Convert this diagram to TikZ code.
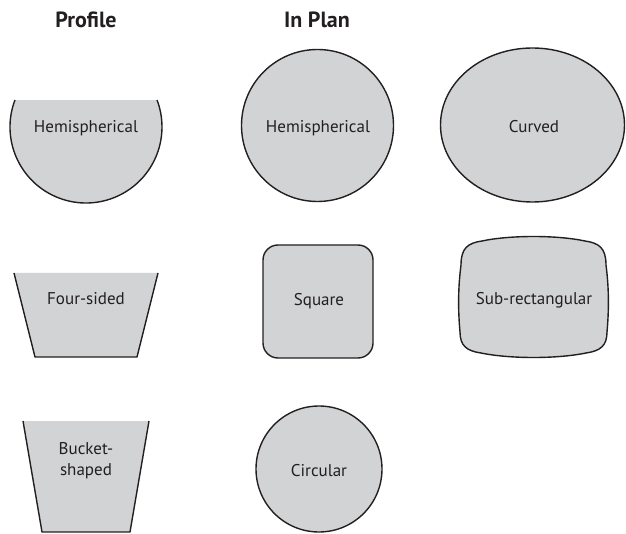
\documentclass[tikz,border=0pt]{standalone}
\usepackage{fontspec}
\setmainfont{PT Sans}
\definecolor{shapefill}{HTML}{D1D3D4}
\definecolor{ink}{HTML}{231F20}
\tikzset{
  shp/.style={fill=shapefill, draw=ink, line width=1.4pt},
  shpfill/.style={fill=shapefill},
  shpline/.style={draw=ink, line width=1.4pt, line join=round},
  lbl/.style={text=ink, inner sep=0pt, font=\fontsize{17}{21}\selectfont},
  hdr/.style={text=ink, inner sep=0pt, font=\fontsize{22}{26}\selectfont\bfseries},
}
\begin{document}
\begin{tikzpicture}[x=1pt,y=-1pt]
\useasboundingbox (0,0) rectangle (626,534);
% headers
\node[hdr, anchor=base] (hprofile) at (86,28) {Profile};
\node[hdr, anchor=base] (hplan) at (317,28) {In Plan};
% profile hemispherical
\fill[shpfill] (86,127) ++(200.8:76) arc[start angle=200.8, end angle=-20.8, radius=76] -- cycle;
\draw[shpline] (86,127) ++(200.8:76) arc[start angle=200.8, end angle=-20.8, radius=76];
\node[lbl, anchor=base] (phemi) at (86,133) {Hemispherical};
% profile four-sided
\fill[shpfill] (14,273) -- (158,273) -- (137,357) -- (35,357) -- cycle;
\draw[shpline] (14,273) -- (35,357) -- (137,357) -- (158,273);
\node[lbl, anchor=base] (pfour) at (86,305) {Four-sided};
% profile bucket
\fill[shpfill] (23,421) -- (149,421) -- (130,532) -- (42,532) -- cycle;
\draw[shpline] (23,421) -- (42,532) -- (130,532) -- (149,421);
\node[lbl, align=center] (pbucket) at (86,461) {Bucket-\\shaped};
% plan hemispherical
\draw[shp] (317.5,125.5) circle[radius=76];
\node[lbl, anchor=base] (lhemi) at (318,133) {Hemispherical};
% curved
\draw[shp] (532.5,125) ellipse[x radius=92, y radius=77];
\node[lbl, anchor=base] (lcurved) at (534,133) {Curved};
% square
\draw[shp, rounded corners=15pt] (263,245) rectangle (373,358);
\node[lbl, anchor=base] (lsquare) at (319,306) {Square};
% sub-rectangular
\draw[shp] (461,265) .. controls (461,248) and (468,243) .. (482,241)
  .. controls (510,235) and (557,235) .. (585,241)
  .. controls (599,243) and (606,248) .. (606,265)
  .. controls (609,288) and (609,310) .. (607,332)
  .. controls (607,346) and (600,351) .. (586,353)
  .. controls (557,359) and (510,359) .. (481,353)
  .. controls (467,351) and (460,346) .. (460,332)
  .. controls (458,310) and (458,288) .. (461,265) -- cycle;
\node[lbl, anchor=base] (lsubrect) at (534,305) {Sub-rectangular};
% circular
\draw[shp] (319,469) circle[radius=63];
\node[lbl, anchor=base] (lcirc) at (319,476) {Circular};
\end{tikzpicture}
\end{document}
